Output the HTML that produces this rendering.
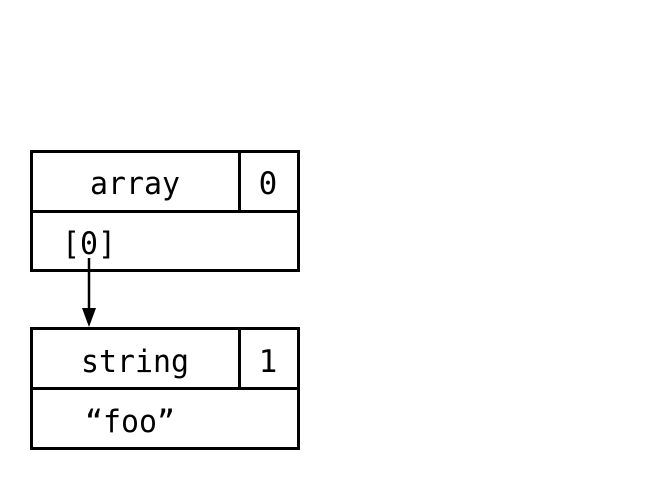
<!DOCTYPE html>
<html><head><meta charset="utf-8"><style>
html,body{margin:0;padding:0;background:#fff;width:653px;height:478px;overflow:hidden}
</style></head><body>
<svg width="653" height="478" xmlns="http://www.w3.org/2000/svg" font-family="DejaVu Sans Mono, Liberation Mono, monospace" font-size="31">
<g fill="none" stroke="#000" stroke-width="3">
<rect x="31.5" y="151.5" width="267" height="119"/>
<line x1="31" y1="211.5" x2="298" y2="211.5"/>
<line x1="239.5" y1="151" x2="239.5" y2="211"/>
<rect x="31.5" y="328.5" width="267" height="120"/>
<line x1="31" y1="388.5" x2="298" y2="388.5"/>
<line x1="239.5" y1="328" x2="239.5" y2="388"/>
<line x1="89" y1="258" x2="89" y2="312" stroke-width="2.5"/>
</g>
<polygon points="82,308 96,308 89,327" fill="#000"/>
<g fill="#000">
<text x="135" y="194" text-anchor="middle" textLength="90" lengthAdjust="spacingAndGlyphs">array</text>
<text x="268" y="194" text-anchor="middle">0</text>
<text x="89" y="254" text-anchor="middle" textLength="54" lengthAdjust="spacingAndGlyphs">[0]</text>
<text x="135" y="372" text-anchor="middle" textLength="108" lengthAdjust="spacingAndGlyphs">string</text>
<text x="268" y="372" text-anchor="middle">1</text>
<text x="130" y="432" text-anchor="middle" textLength="90" lengthAdjust="spacingAndGlyphs">“foo”</text>
</g>
</svg>
</body></html>
